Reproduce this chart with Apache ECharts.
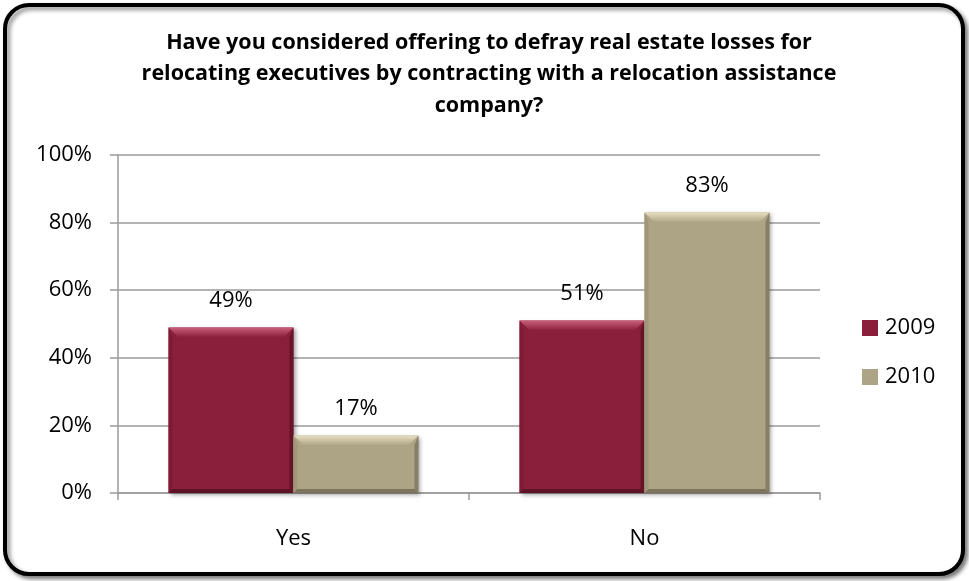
<!DOCTYPE html>
<html>
<head>
<meta charset="utf-8">
<script src="https://cdn.jsdelivr.net/npm/echarts@6/dist/echarts.min.js"></script>
<style>
  html, body { margin: 0; padding: 0; background: #ffffff; }
  #chart { width: 969px; height: 581px; }
</style>
</head>
<body>
<div id="chart"></div>
<script>
// Survey answers, share of respondents (%)
const categories = ['Yes', 'No'];
const years = ['2009', '2010'];
const values2009 = [49, 51];
const values2010 = [17, 83];
const yTicks = [0, 20, 40, 60, 80, 100];

const titleText = 'Have you considered offering to defray real estate losses for\nrelocating executives by contracting with a relocation assistance\ncompany?';

const FONT = '"Open Sans", sans-serif';

// Fill, top highlight, side shade and bottom shade for each year
const palette = [
  { base: '#8a1f3b', light: '#c95f7b', side: '#7e1a34', dark: '#5e1226' },
  { base: '#ada385', light: '#e6dfc0', side: '#a0977a', dark: '#7c745c' }
];

const chart = echarts.init(document.getElementById('chart'), null, { renderer: 'canvas' });

// Bevelled bar: two bars share each category band, centred with equal outer gaps
function bevelBar(seriesIdx) {
  const pal = palette[seriesIdx];
  return function (params, api) {
    const cat = api.value(0);
    const val = api.value(1);
    const base = api.coord([cat, 0]);
    const topPt = api.coord([cat, val]);
    const band = api.size([1, 0])[0];
    const w = band * 0.356;
    const x = base[0] - w + seriesIdx * w;
    const y = topPt[1];
    const h = base[1] - topPt[1];
    const b = Math.min(10, h / 2);
    const bs = 4;
    return {
      type: 'group',
      children: [
        {
          type: 'rect',
          shape: { x: x, y: y, width: w, height: h },
          style: { fill: pal.base, shadowColor: 'rgba(0,0,0,0.35)', shadowBlur: 4, shadowOffsetX: 2, shadowOffsetY: 2 }
        },
        {
          type: 'polygon',
          shape: { points: [[x, y], [x + w, y], [x + w - b, y + b], [x + b, y + b]] },
          style: {
            fill: new echarts.graphic.LinearGradient(0, 0, 0, 1, [
              { offset: 0, color: pal.light },
              { offset: 1, color: pal.base }
            ])
          }
        },
        {
          type: 'polygon',
          shape: { points: [[x, y], [x + bs, y + b], [x + bs, y + h - bs], [x, y + h]] },
          style: { fill: pal.side }
        },
        {
          type: 'polygon',
          shape: { points: [[x + w, y], [x + w, y + h], [x + w - bs, y + h - bs], [x + w - bs, y + b]] },
          style: { fill: pal.dark, opacity: 0.8 }
        },
        {
          type: 'polygon',
          shape: { points: [[x, y + h], [x + bs, y + h - bs], [x + w - bs, y + h - bs], [x + w, y + h]] },
          style: { fill: pal.dark }
        },
        {
          type: 'text',
          style: {
            x: x + w / 2,
            y: y - 27,
            text: val + '%',
            fill: '#000',
            font: '22px ' + FONT,
            align: 'center',
            verticalAlign: 'middle'
          }
        }
      ]
    };
  };
}

function barSeries(idx, values) {
  return {
    name: years[idx],
    type: 'custom',
    clip: false,
    itemStyle: { color: palette[idx].base },
    encode: { x: 0, y: 1 },
    data: values.map((v, i) => [i, v]),
    renderItem: bevelBar(idx)
  };
}

chart.setOption({
  animation: false,
  backgroundColor: '#ffffff',
  graphic: [
    {
      type: 'rect',
      z: -10,
      shape: { x: 5, y: 5, width: 958, height: 569, r: 24 },
      style: { fill: '#ffffff', stroke: '#000000', lineWidth: 4,
               shadowColor: 'rgba(0,0,0,0.45)', shadowBlur: 4, shadowOffsetX: 3, shadowOffsetY: 3 },
      silent: true
    }
  ],
  title: {
    text: titleText,
    left: 484,
    top: 22,
    textAlign: 'center',
    textStyle: {
      fontFamily: FONT,
      fontWeight: 'bold',
      fontSize: 21.5,
      lineHeight: 31.5,
      color: '#000',
      align: 'center'
    }
  },
  legend: {
    orient: 'vertical',
    left: 862,
    top: 317,
    padding: 0,
    itemWidth: 16,
    itemHeight: 16,
    itemGap: 27,
    icon: 'rect',
    textStyle: { fontFamily: FONT, fontSize: 22, lineHeight: 22, color: '#000', padding: [0, 0, 0, 2] },
    data: years
  },
  grid: {
    left: 118,
    right: 149,
    top: 155,
    bottom: 88
  },
  xAxis: {
    type: 'category',
    data: categories,
    axisLine: { show: true, lineStyle: { color: '#9a9a9a', width: 1.5 } },
    axisTick: { show: true, length: 7, lineStyle: { color: '#9a9a9a', width: 1.5 } },
    axisLabel: { fontFamily: FONT, fontSize: 22, color: '#000', margin: 35 }
  },
  yAxis: {
    type: 'value',
    min: 0,
    max: 100,
    interval: 20,
    axisLine: { show: true, lineStyle: { color: '#9a9a9a', width: 1.5 } },
    axisTick: { show: true, length: 8, lineStyle: { color: '#9a9a9a', width: 1.5 } },
    splitLine: { show: true, lineStyle: { color: '#9a9a9a', width: 1.5 } },
    axisLabel: {
      fontFamily: FONT,
      fontSize: 22,
      color: '#000',
      margin: 26,
      formatter: v => (yTicks.includes(v) ? v + '%' : '')
    }
  },
  series: [
    barSeries(0, values2009),
    barSeries(1, values2010)
  ]
});
</script>
</body>
</html>
